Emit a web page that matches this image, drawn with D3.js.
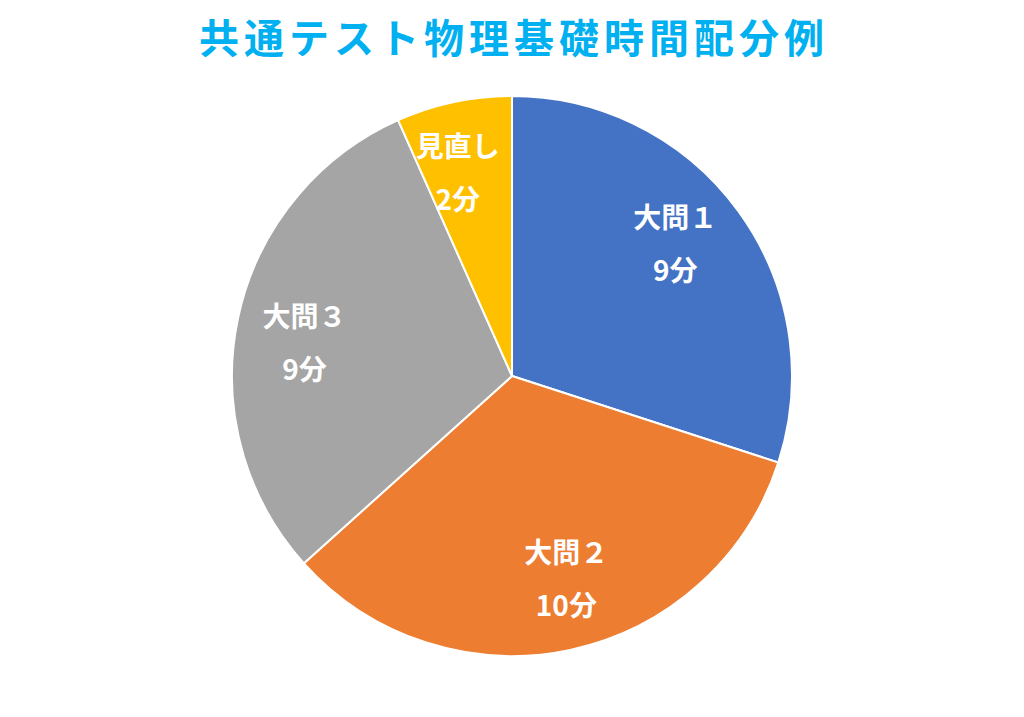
<!DOCTYPE html>
<html>
<head>
<meta charset="utf-8">
<script src="https://cdn.jsdelivr.net/npm/d3@7"></script>
<style>
  body { margin: 0; background: #fff; }
  text { font-family: "Noto Sans CJK JP", sans-serif; }
</style>
</head>
<body>
<script>
var w = 1024;
var h = 717;

var title = "共通テスト物理基礎時間配分例";
var categories = ["大問１", "大問２", "大問３", "見直し"];
var minutes = [9, 10, 9, 2];
var colors = ["#4472C4", "#ED7D31", "#A5A5A5", "#FFC000"];

var cx = 512, cy = 376, radius = 280;

var svg = d3.select("body")
            .append("svg")
            .attr("width", w)
            .attr("height", h);

svg.append("text")
   .attr("x", w / 2 + 2)
   .attr("y", 53)
   .attr("text-anchor", "middle")
   .attr("font-size", "40px")
   .attr("font-weight", "bold")
   .attr("letter-spacing", "5px")
   .attr("fill", "#00B0F0")
   .text(title);

var data = categories.map(function(c, i) {
    return { name: c, value: minutes[i], color: colors[i] };
});

var pie = d3.pie()
            .sort(null)
            .value(function(d) { return d.value; });

var arc = d3.arc().innerRadius(0).outerRadius(radius);

// labels sit a little before the slice middle, like Excel's best fit
var labelR = 210;
var shift = -3 * Math.PI / 180;
function labelPos(d) {
    var a = (d.startAngle + d.endAngle) / 2 + shift;
    return [labelR * Math.sin(a), -labelR * Math.cos(a)];
}

var g = svg.append("g")
           .attr("transform", `translate(${cx}, ${cy})`);

var slices = g.selectAll("g.slice")
              .data(pie(data))
              .enter()
              .append("g")
              .attr("class", "slice");

slices.append("path")
      .attr("d", arc)
      .attr("fill", function(d) { return d.data.color; })
      .attr("stroke", "#fff")
      .attr("stroke-width", 2);

var labels = slices.append("text")
      .attr("transform", function(d) {
          var c = labelPos(d);
          return `translate(${c[0]}, ${c[1]})`;
      })
      .attr("text-anchor", "middle")
      .attr("font-size", "28px")
      .attr("font-weight", "bold")
      .attr("fill", "#fff");

labels.append("tspan")
      .attr("x", 0)
      .attr("y", -16)
      .text(function(d) { return d.data.name; });

labels.append("tspan")
      .attr("x", 0)
      .attr("y", 37)
      .text(function(d) { return d.data.value + "分"; });
</script>
</body>
</html>
